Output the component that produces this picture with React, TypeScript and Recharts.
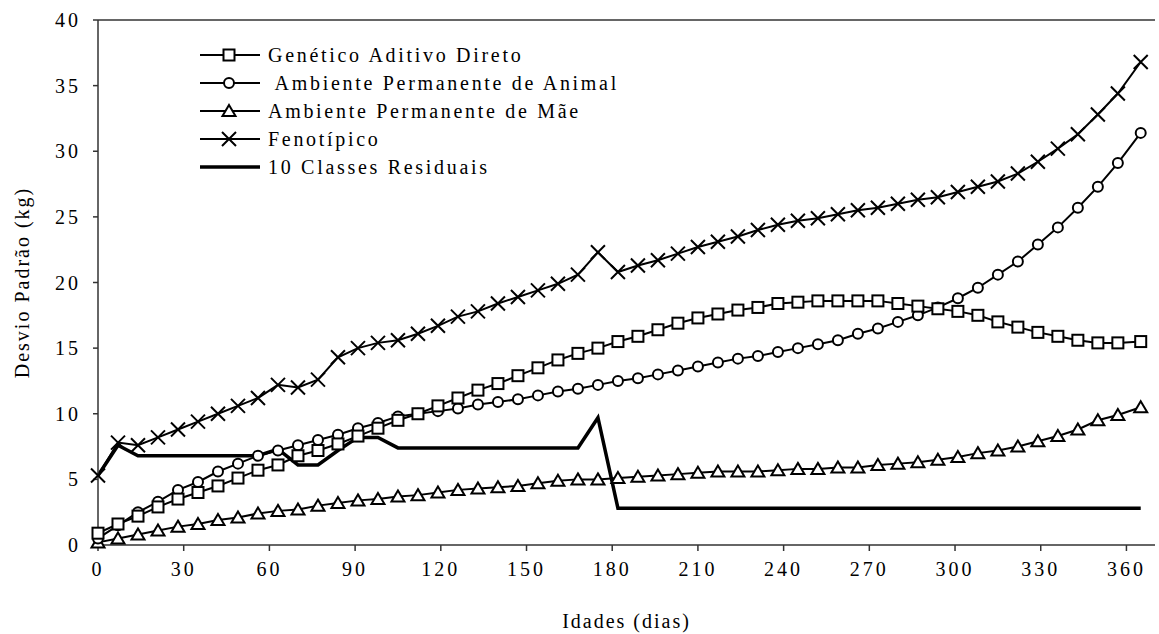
import React from "react";
import {
  LineChart, Line, XAxis, YAxis, Legend, ReferenceLine,
} from "recharts";

// idade (dias)
const days = [
  0, 7, 14, 21, 28, 35, 42, 49, 56, 63, 70, 77, 84, 91, 98, 105, 112, 119, 126,
  133, 140, 147, 154, 161, 168, 175, 182, 189, 196, 203, 210, 217, 224, 231, 238,
  245, 252, 259, 266, 273, 280, 287, 294, 301, 308, 315, 322, 329, 336, 343, 350,
  357, 365,
];

const genetico = [
  0.9, 1.6, 2.2, 2.9, 3.5, 4.0, 4.5, 5.1, 5.7, 6.1, 6.8, 7.2, 7.7, 8.3, 8.9, 9.5,
  10.0, 10.6, 11.2, 11.8, 12.3, 12.9, 13.5, 14.1, 14.6, 15.0, 15.5, 15.9, 16.4,
  16.9, 17.3, 17.6, 17.9, 18.1, 18.4, 18.5, 18.6, 18.6, 18.6, 18.6, 18.4, 18.2,
  18.0, 17.8, 17.5, 17.0, 16.6, 16.2, 15.9, 15.6, 15.4, 15.4, 15.5,
];

const ambAnimal = [
  0.5, 1.5, 2.5, 3.3, 4.2, 4.8, 5.6, 6.2, 6.8, 7.2, 7.6, 8.0, 8.4, 8.9, 9.3, 9.8,
  10.0, 10.2, 10.4, 10.7, 10.9, 11.1, 11.4, 11.7, 11.9, 12.2, 12.5, 12.7, 13.0,
  13.3, 13.6, 13.9, 14.2, 14.4, 14.7, 15.0, 15.3, 15.6, 16.1, 16.5, 17.0, 17.5,
  18.1, 18.8, 19.6, 20.6, 21.6, 22.9, 24.2, 25.7, 27.3, 29.1, 31.4,
];

const ambMae = [
  0.2, 0.5, 0.8, 1.1, 1.4, 1.6, 1.9, 2.1, 2.4, 2.6, 2.7, 3.0, 3.2, 3.4, 3.5, 3.7,
  3.8, 4.0, 4.2, 4.3, 4.4, 4.5, 4.7, 4.9, 5.0, 5.0, 5.1, 5.2, 5.3, 5.4, 5.5, 5.6,
  5.6, 5.6, 5.7, 5.8, 5.8, 5.9, 5.9, 6.1, 6.2, 6.3, 6.5, 6.7, 7.0, 7.2, 7.5, 7.9,
  8.3, 8.8, 9.5, 9.9, 10.5,
];

const fenotipico = [
  5.3, 7.8, 7.6, 8.2, 8.8, 9.4, 10.0, 10.6, 11.2, 12.2, 12.0, 12.6, 14.3, 15.0,
  15.4, 15.6, 16.1, 16.7, 17.4, 17.8, 18.4, 18.9, 19.4, 19.9, 20.6, 22.3, 20.8,
  21.3, 21.7, 22.2, 22.7, 23.1, 23.5, 24.0, 24.4, 24.7, 24.9, 25.2, 25.5, 25.7,
  26.0, 26.3, 26.5, 26.9, 27.3, 27.7, 28.3, 29.2, 30.2, 31.3, 32.8, 34.4, 36.8,
];

const residual = [
  5.3, 7.6, 6.8, 6.8, 6.8, 6.8, 6.8, 6.8, 6.8, 7.3, 6.1, 6.1, 7.2, 8.2, 8.2, 7.4,
  7.4, 7.4, 7.4, 7.4, 7.4, 7.4, 7.4, 7.4, 7.4, 9.7, 2.8, 2.8, 2.8, 2.8, 2.8, 2.8,
  2.8, 2.8, 2.8, 2.8, 2.8, 2.8, 2.8, 2.8, 2.8, 2.8, 2.8, 2.8, 2.8, 2.8, 2.8, 2.8,
  2.8, 2.8, 2.8, 2.8, 2.8,
];

const xTicks = [0, 30, 60, 90, 120, 150, 180, 210, 240, 270, 300, 330, 360];
const yTicks = [0, 5, 10, 15, 20, 25, 30, 35, 40];

const data = days.map((d, i) => ({
  dia: d,
  genetico: genetico[i],
  ambAnimal: ambAnimal[i],
  ambMae: ambMae[i],
  fenotipico: fenotipico[i],
  residual: residual[i],
}));

const FONT = "Liberation Serif, serif";

type Kind = "square" | "circle" | "triangle" | "cross" | "none";

function Marker({ kind, cx, cy }: { kind: Kind; cx: number; cy: number }) {
  if (kind === "square")
    return <rect x={cx - 5.5} y={cy - 5.5} width={11} height={11} fill="#fff" stroke="#000" strokeWidth={2} />;
  if (kind === "circle")
    return <circle cx={cx} cy={cy} r={5} fill="#fff" stroke="#000" strokeWidth={2} />;
  if (kind === "triangle")
    return (
      <path
        d={`M${cx},${cy - 6} L${cx + 6.5},${cy + 5} L${cx - 6.5},${cy + 5} Z`}
        fill="#fff" stroke="#000" strokeWidth={2}
      />
    );
  if (kind === "cross")
    return (
      <path
        d={`M${cx - 7},${cy - 7} L${cx + 7},${cy + 7} M${cx + 7},${cy - 7} L${cx - 7},${cy + 7}`}
        stroke="#000" strokeWidth={2}
      />
    );
  return null;
}

const dotFor = (kind: Kind) => (p: any) => {
  if (p.cx == null || p.cy == null) return <g key={p.index} />;
  return (
    <g key={p.index}>
      <Marker kind={kind} cx={p.cx} cy={p.cy} />
    </g>
  );
};

const legendItems: { label: string; kind: Kind }[] = [
  { label: "Genético Aditivo Direto", kind: "square" },
  { label: " Ambiente Permanente de Animal", kind: "circle" },
  { label: "Ambiente Permanente de Mãe", kind: "triangle" },
  { label: "Fenotípico", kind: "cross" },
  { label: "10 Classes Residuais", kind: "none" },
];

function LegendBox() {
  return (
    <div style={{ fontFamily: FONT }}>
      {legendItems.map((it) => (
        <div key={it.label} style={{ display: "flex", alignItems: "center", height: 28 }}>
          <svg width={64} height={28}>
            <line x1={2} y1={14} x2={62} y2={14} stroke="#000" strokeWidth={it.kind === "none" ? 3.5 : 2} />
            <Marker kind={it.kind} cx={31} cy={14} />
          </svg>
          <span style={{ fontSize: 20, letterSpacing: 2.7, marginLeft: 6, whiteSpace: "pre", color: "#000" }}>
            {it.label}
          </span>
        </div>
      ))}
    </div>
  );
}

export default function App() {
  const tick = { fontSize: 20, fill: "#000", fontFamily: FONT, letterSpacing: 3 };
  const axisLabel = { fontSize: 20, fill: "#000", fontFamily: FONT, letterSpacing: 2 };
  return (
    <div style={{ position: "absolute", left: 0, top: 0, width: 1159, height: 634, background: "#fff" }}>
      <LineChart width={1159} height={634} data={data} margin={{ top: 20, right: 4, left: 0, bottom: 0 }}>
        <XAxis
          dataKey="dia"
          type="number"
          domain={[0, 370]}
          ticks={xTicks}
          tick={tick}
          tickSize={6}
          tickMargin={11}
          height={89}
          stroke="#333"
          strokeWidth={1.5}
          label={{
            value: "Idades (dias)",
            position: "insideBottom",
            offset: 6,
            style: axisLabel,
          }}
        />
        <YAxis
          type="number"
          domain={[0, 40]}
          ticks={yTicks}
          tick={tick}
          tickSize={5}
          tickMargin={12}
          width={98}
          stroke="#333"
          strokeWidth={1.5}
          label={{
            value: "Desvio Padrão (kg)",
            angle: -90,
            position: "insideLeft",
            offset: 22,
            style: { ...axisLabel, textAnchor: "middle" },
          }}
        />
        <ReferenceLine y={40} stroke="#333" strokeWidth={1.5} />
        <Legend
          layout="vertical"
          align="center"
          verticalAlign="middle"
          content={() => <LegendBox />}
          wrapperStyle={{ left: 198, top: 41, width: "auto" }}
        />
        <Line
          dataKey="residual"
          name="10 Classes Residuais"
          type="linear"
          stroke="#000"
          strokeWidth={3.5}
          dot={false}
          isAnimationActive={false}
        />
        <Line
          dataKey="ambMae"
          name="Ambiente Permanente de Mãe"
          type="linear"
          stroke="#000"
          strokeWidth={2}
          dot={dotFor("triangle")}
          isAnimationActive={false}
        />
        <Line
          dataKey="ambAnimal"
          name="Ambiente Permanente de Animal"
          type="linear"
          stroke="#000"
          strokeWidth={2}
          dot={dotFor("circle")}
          isAnimationActive={false}
        />
        <Line
          dataKey="genetico"
          name="Genético Aditivo Direto"
          type="linear"
          stroke="#000"
          strokeWidth={2}
          dot={dotFor("square")}
          isAnimationActive={false}
        />
        <Line
          dataKey="fenotipico"
          name="Fenotípico"
          type="linear"
          stroke="#000"
          strokeWidth={2}
          dot={dotFor("cross")}
          isAnimationActive={false}
        />
      </LineChart>
    </div>
  );
}
